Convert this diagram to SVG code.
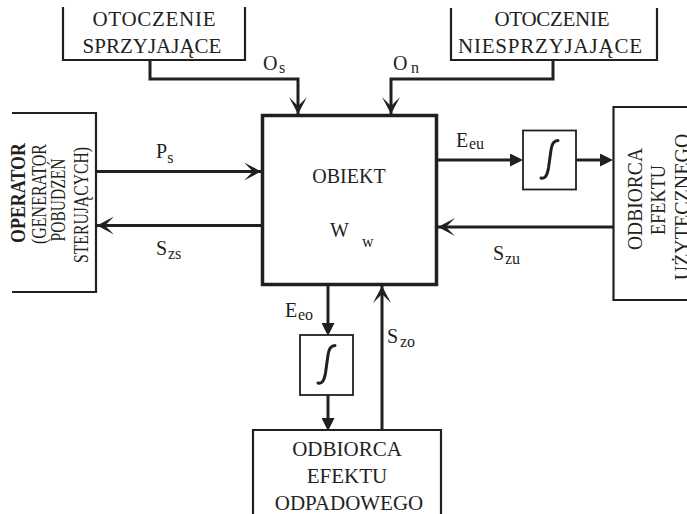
<svg xmlns="http://www.w3.org/2000/svg" width="687" height="514" viewBox="0 0 687 514">
<style>
text{font-family:"Liberation Serif","Times New Roman",serif;fill:#231f20}
.t{font-size:21px}
.lab{font-size:20px}
.sub{font-size:16px}
.rot{font-size:20px}
.rb{font-size:20px;font-weight:bold}
.box{fill:none;stroke:#231f20;stroke-width:2.2}
.main{fill:#fff;stroke:#231f20;stroke-width:3.5}
.ibox{fill:#fff;stroke:#231f20;stroke-width:1.8}
.int{fill:none;stroke:#231f20;stroke-width:3;stroke-linecap:round}
.c{fill:none;stroke:#231f20;stroke-width:3}
.cb{marker-end:url(#barb)}
.cf{marker-end:url(#fill)}
</style>
<defs>
<marker id="barb" markerUnits="userSpaceOnUse" viewBox="0 0 18 20" refX="18" refY="10" markerWidth="18" markerHeight="20" orient="auto">
<path d="M18,10 L1,1 L10,10 L1,19 Z" fill="#231f20"/>
</marker>
<marker id="fill" markerUnits="userSpaceOnUse" viewBox="0 0 13 13" refX="6" refY="6.5" markerWidth="13" markerHeight="13" orient="auto">
<path d="M0,0 L13,6.5 L0,13 Z" fill="#231f20"/>
</marker>
</defs>

<g id="connectors">
<path class="c cb" d="M150,60 V79 H298 V114"/>
<path class="c cb" d="M553,60 V79 H391 V114"/>
<path class="c cb" d="M96,171.5 H261"/>
<path class="c cb" d="M262,225.5 H97"/>
<path class="c cf" d="M437,160 H516"/>
<path class="c cf" d="M576,160 H606"/>
<path class="c cb" d="M613,227 H438"/>
<path class="c cf" d="M328,286 V329"/>
<path class="c cf" d="M328,395 V424"/>
<path class="c cb" d="M382,430 V286"/>
</g>

<g id="otoczenie-sprzyjajace">
<path class="box" d="M63,7 V60 H245 V7"/>
<text class="t" x="154" y="26" text-anchor="middle" textLength="123">OTOCZENIE</text>
<text class="t" x="152" y="53" text-anchor="middle">SPRZYJAJĄCE</text>
</g>

<g id="otoczenie-niesprzyjajace">
<path class="box" d="M451,8 V60 H657 V8"/>
<text class="t" x="552" y="26" text-anchor="middle" textLength="115">OTOCZENIE</text>
<text class="t" x="550" y="53" text-anchor="middle" textLength="184">NIESPRZYJAJĄCE</text>
</g>

<g id="operator">
<path class="box" d="M12,113 H96 V292 H12"/>
<text class="rb" transform="translate(25,193) rotate(-90)" text-anchor="middle" textLength="100" lengthAdjust="spacingAndGlyphs">OPERATOR</text>
<text class="rot" transform="translate(46,194) rotate(-90)" text-anchor="middle" textLength="100" lengthAdjust="spacingAndGlyphs">(GENERATOR</text>
<text class="rot" transform="translate(65,200) rotate(-90)" text-anchor="middle" textLength="83" lengthAdjust="spacingAndGlyphs">POBUDZEŃ</text>
<text class="rot" transform="translate(88,205) rotate(-90)" text-anchor="middle" textLength="116" lengthAdjust="spacingAndGlyphs">STERUJĄCYCH)</text>
</g>

<g id="obiekt">
<rect class="main" x="262.5" y="115.5" width="174" height="169"/>
<text class="lab" x="349" y="183" text-anchor="middle">OBIEKT</text>
<text class="lab" x="330" y="237">W<tspan class="sub" x="362" y="247">w</tspan></text>
</g>

<g id="integrator-u">
<rect class="ibox" x="523" y="130.5" width="53" height="59"/>
<path class="int" d="M541,178 C545,179 547,176 548.5,168 L551,150 C552,143 554,140.5 558,140.5"/>
</g>

<g id="odbiorca-uzytecznego">
<path class="box" d="M690,107 H613.5 V300 H690"/>
<text class="rot" transform="translate(642,199) rotate(-90)" text-anchor="middle" textLength="102" lengthAdjust="spacingAndGlyphs">ODBIORCA</text>
<text class="rot" transform="translate(665,200) rotate(-90)" text-anchor="middle" textLength="70" lengthAdjust="spacingAndGlyphs">EFEKTU</text>
<text class="rot" transform="translate(689,207) rotate(-90)" text-anchor="middle">UŻYTECZNEGO</text>
</g>

<g id="integrator-o">
<rect class="ibox" x="300" y="335" width="53" height="60"/>
<path class="int" d="M318,383 C322,384 324,381 325.5,373 L328,355 C329,348 331,345.5 335,345.5"/>
</g>

<g id="odbiorca-odpadowego">
<path class="box" d="M253,520 V430 H441 V520"/>
<text class="t" x="347" y="456" text-anchor="middle">ODBIORCA</text>
<text class="t" x="347" y="483" text-anchor="middle">EFEKTU</text>
<text class="t" x="349" y="510" text-anchor="middle">ODPADOWEGO</text>
</g>

<g id="labels">
<text class="lab" x="156" y="158">P<tspan class="sub" y="163">s</tspan></text>
<text class="lab" x="156" y="255">S<tspan class="sub" x="168" y="259">zs</tspan></text>
<text class="lab" x="263" y="70">O<tspan class="sub" x="279" y="73">s</tspan></text>
<text class="lab" x="393" y="70">O<tspan class="sub" x="411" y="73">n</tspan></text>
<text class="lab" x="456" y="147">E<tspan class="sub" x="469" y="149">eu</tspan></text>
<text class="lab" x="493" y="260">S<tspan class="sub" x="505" y="264">zu</tspan></text>
<text class="lab" x="285" y="317">E<tspan class="sub" x="298" y="320">eo</tspan></text>
<text class="lab" x="387" y="343">S<tspan class="sub" x="400" y="347">zo</tspan></text>
</g>
</svg>
